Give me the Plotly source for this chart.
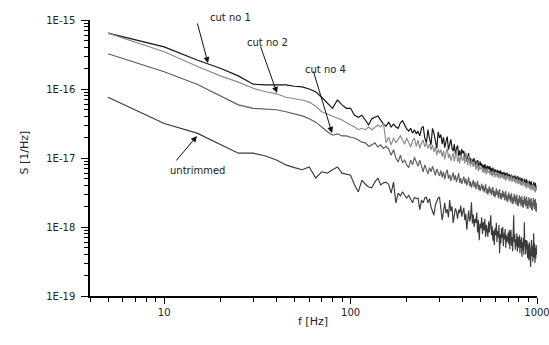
import plotly.graph_objects as go

# frequency grid (Hz), 5 Hz spacing as in the measured spectra
freq = list(range(5, 1005, 5))

# log10 of S [1/Hz]
cut1_log = [
    -15.19, -15.39, -15.58, -15.70, -15.81, -15.93, -15.94, -15.94, -15.94, -15.96,
    -15.97, -16.00, -16.04, -16.12, -16.20, -16.28, -16.16, -16.23, -16.28, -16.28,
    -16.38, -16.41, -16.38, -16.45, -16.52, -16.43, -16.41, -16.39, -16.45, -16.51,
    -16.54, -16.48, -16.55, -16.51, -16.55, -16.57, -16.49, -16.46, -16.52, -16.58,
    -16.61, -16.57, -16.64, -16.59, -16.65, -16.61, -16.68, -16.57, -16.54, -16.71,
    -16.78, -16.59, -16.72, -16.81, -16.57, -16.64, -16.75, -16.86, -16.62, -16.71,
    -16.66, -16.80, -16.70, -16.85, -16.76, -16.69, -16.88, -16.79, -16.73, -16.86,
    -16.90, -16.80, -16.95, -16.86, -16.82, -16.97, -16.89, -17.00, -16.87, -16.93,
    -16.90, -17.01, -16.94, -17.05, -16.97, -16.93, -17.07, -17.00, -17.08, -17.02,
    -17.06, -17.00, -17.10, -17.04, -17.12, -17.03, -17.09, -17.14, -17.05, -17.11,
    -17.08, -17.15, -17.10, -17.17, -17.09, -17.13, -17.18, -17.11, -17.16, -17.12,
    -17.17, -17.12, -17.20, -17.15, -17.22, -17.14, -17.19, -17.23, -17.16, -17.20,
    -17.18, -17.24, -17.17, -17.22, -17.19, -17.26, -17.18, -17.23, -17.20, -17.25,
    -17.21, -17.27, -17.20, -17.24, -17.29, -17.22, -17.26, -17.21, -17.28, -17.24,
    -17.27, -17.23, -17.30, -17.25, -17.29, -17.24, -17.31, -17.26, -17.30, -17.27,
    -17.29, -17.25, -17.32, -17.27, -17.33, -17.28, -17.31, -17.26, -17.34, -17.30,
    -17.32, -17.28, -17.35, -17.30, -17.34, -17.29, -17.36, -17.31, -17.35, -17.32,
    -17.34, -17.30, -17.38, -17.33, -17.36, -17.31, -17.39, -17.34, -17.37, -17.35,
    -17.38, -17.33, -17.41, -17.35, -17.39, -17.34, -17.42, -17.37, -17.44, -17.38,
    -17.40, -17.35, -17.45, -17.38, -17.42, -17.36, -17.47, -17.40, -17.44, -17.41,
]

cut2_log = [
    -15.19, -15.46, -15.67, -15.81, -15.90, -15.99, -16.04, -16.07, -16.12, -16.14,
    -16.16, -16.19, -16.25, -16.33, -16.36, -16.39, -16.42, -16.45, -16.49, -16.52,
    -16.55, -16.59, -16.57, -16.59, -16.55, -16.59, -16.55, -16.52, -16.55, -16.49,
    -16.78, -16.70, -16.81, -16.71, -16.78, -16.72, -16.68, -16.74, -16.80, -16.71,
    -16.77, -16.84, -16.75, -16.71, -16.83, -16.74, -16.86, -16.78, -16.74, -16.84,
    -16.77, -16.86, -16.80, -16.88, -16.81, -16.91, -16.84, -16.96, -16.87, -16.93,
    -16.88, -16.98, -16.90, -17.02, -16.92, -16.86, -17.00, -16.94, -17.04, -16.97,
    -16.93, -17.05, -16.96, -16.89, -17.06, -16.98, -17.08, -16.95, -17.01, -17.04,
    -16.96, -17.08, -16.92, -17.04, -17.10, -16.97, -17.07, -17.12, -17.02, -17.09,
    -17.13, -17.04, -17.11, -17.17, -17.06, -17.14, -17.19, -17.10, -17.16, -17.15,
    -17.12, -17.20, -17.14, -17.22, -17.16, -17.19, -17.24, -17.15, -17.21, -17.20,
    -17.18, -17.25, -17.19, -17.23, -17.27, -17.18, -17.25, -17.21, -17.28, -17.23,
    -17.20, -17.27, -17.22, -17.29, -17.21, -17.26, -17.30, -17.23, -17.28, -17.25,
    -17.29, -17.23, -17.31, -17.25, -17.28, -17.33, -17.24, -17.30, -17.26, -17.29,
    -17.32, -17.26, -17.34, -17.28, -17.31, -17.25, -17.35, -17.29, -17.33, -17.30,
    -17.28, -17.35, -17.30, -17.37, -17.31, -17.34, -17.29, -17.38, -17.32, -17.34,
    -17.37, -17.31, -17.39, -17.33, -17.36, -17.41, -17.34, -17.38, -17.32, -17.37,
    -17.40, -17.35, -17.42, -17.36, -17.39, -17.44, -17.37, -17.41, -17.35, -17.40,
    -17.43, -17.37, -17.45, -17.39, -17.42, -17.47, -17.40, -17.44, -17.38, -17.43,
    -17.46, -17.39, -17.48, -17.41, -17.44, -17.50, -17.42, -17.46, -17.40, -17.45,
]

cut4_log = [
    -15.49, -15.75, -15.93, -16.10, -16.23, -16.28, -16.29, -16.30, -16.33, -16.36,
    -16.39, -16.43, -16.48, -16.55, -16.62, -16.67, -16.65, -16.68, -16.68, -16.70,
    -16.71, -16.74, -16.77, -16.78, -16.83, -16.81, -16.78, -16.84, -16.81, -16.86,
    -16.83, -16.87, -16.96, -16.88, -17.00, -17.06, -16.96, -17.07, -17.03, -17.10,
    -17.14, -17.03, -17.10, -16.99, -17.07, -17.12, -17.03, -17.14, -17.20, -17.10,
    -17.17, -17.23, -17.14, -17.20, -17.12, -17.19, -17.25, -17.16, -17.22, -17.26,
    -17.18, -17.28, -17.20, -17.31, -17.22, -17.17, -17.30, -17.24, -17.33, -17.25,
    -17.21, -17.32, -17.25, -17.35, -17.27, -17.22, -17.36, -17.29, -17.38, -17.31,
    -17.27, -17.37, -17.30, -17.40, -17.33, -17.28, -17.41, -17.34, -17.43, -17.36,
    -17.32, -17.42, -17.35, -17.45, -17.38, -17.33, -17.46, -17.39, -17.48, -17.41,
    -17.37, -17.47, -17.40, -17.50, -17.42, -17.38, -17.51, -17.44, -17.53, -17.45,
    -17.41, -17.51, -17.44, -17.54, -17.46, -17.42, -17.55, -17.48, -17.57, -17.48,
    -17.44, -17.54, -17.47, -17.58, -17.49, -17.45, -17.59, -17.51, -17.60, -17.51,
    -17.47, -17.57, -17.50, -17.61, -17.52, -17.48, -17.62, -17.54, -17.64, -17.54,
    -17.50, -17.60, -17.53, -17.64, -17.55, -17.51, -17.66, -17.57, -17.67, -17.57,
    -17.52, -17.63, -17.55, -17.67, -17.58, -17.53, -17.69, -17.59, -17.70, -17.59,
    -17.54, -17.65, -17.57, -17.69, -17.60, -17.55, -17.71, -17.61, -17.72, -17.61,
    -17.55, -17.67, -17.58, -17.70, -17.61, -17.56, -17.73, -17.62, -17.74, -17.62,
    -17.57, -17.69, -17.60, -17.72, -17.63, -17.58, -17.75, -17.64, -17.76, -17.64,
    -17.58, -17.70, -17.61, -17.74, -17.65, -17.59, -17.77, -17.66, -17.78, -17.65,
]

untrimmed_log = [
    -16.12, -16.50, -16.64, -16.81, -16.93, -16.93, -16.97, -17.03, -17.10, -17.14,
    -17.17, -17.13, -17.29, -17.20, -17.22, -17.17, -17.13, -17.22, -17.23, -17.25,
    -17.39, -17.49, -17.32, -17.38, -17.42, -17.43, -17.35, -17.29, -17.39, -17.36,
    -17.35, -17.38, -17.51, -17.35, -17.65, -17.51, -17.55, -17.49, -17.54, -17.58,
    -17.54, -17.61, -17.65, -17.57, -17.59, -17.58, -17.75, -17.61, -17.65, -17.58,
    -17.57, -17.65, -17.59, -17.71, -17.77, -17.83, -17.68, -17.61, -17.58, -17.57,
    -17.72, -17.90, -17.78, -17.65, -17.80, -17.74, -17.86, -17.61, -17.77, -17.70,
    -17.94, -17.82, -17.73, -17.78, -17.88, -17.75, -17.80, -17.69, -17.85, -17.78,
    -17.72, -17.90, -17.81, -18.04, -17.86, -17.76, -17.92, -17.86, -17.64, -17.95,
    -17.82, -18.00, -17.88, -17.94, -17.79, -18.08, -17.90, -18.19, -17.95, -18.02,
    -17.86, -18.10, -17.93, -18.05, -17.88, -18.14, -17.97, -18.06, -18.14, -17.92,
    -18.08, -17.95, -17.83, -18.12, -17.99, -18.20, -18.05, -18.26, -18.02, -18.12,
    -17.94, -18.22, -18.06, -18.15, -17.97, -18.38, -18.10, -18.24, -18.02, -18.16,
    -18.00, -18.28, -18.09, -18.18, -18.03, -18.30, -18.12, -18.22, -18.19, -18.08,
    -18.25, -18.04, -18.32, -18.11, -18.04, -18.27, -18.15, -18.35, -18.09, -17.83,
    -18.22, -18.10, -18.33, -18.18, -18.28, -18.09, -18.36, -18.14, -18.30, -18.20,
    -18.12, -18.38, -18.18, -18.30, -18.14, -18.43, -18.22, -18.34, -18.16, -18.40,
    -17.93, -18.28, -18.19, -18.40, -18.19, -18.32, -18.20, -18.45, -18.25, -18.38,
    -18.48, -18.22, -18.36, -18.27, -18.58, -18.30, -18.19, -18.42, -18.28, -18.50,
    -18.34, -18.09, -18.44, -18.24, -18.52, -18.30, -18.46, -18.26, -18.40, -18.32,
]

series_names = ["cut no 1", "cut no 2", "cut no 4", "untrimmed"]
series_vals = [cut1_log, cut2_log, cut4_log, untrimmed_log]
series_colors = ["#141414", "#8a8a8a", "#5c5c5c", "#3a3a3a"]

y_tickvals = [1e-19, 1e-18, 1e-17, 1e-16, 1e-15]
y_ticktext = ["1E-19", "1E-18", "1E-17", "1E-16", "1E-15"]
x_tickvals = [10, 100, 1000]
x_ticktext = ["10", "100", "1000"]

# plot area in pixels (from the reference)
L, R, T, B = 90, 537, 20, 296
W, H = 549, 345

fig = go.Figure()
for name, vals, col in zip(series_names, series_vals, series_colors):
    n = min(len(vals), len(freq))
    fig.add_trace(go.Scatter(
        x=freq[:n], y=[10 ** v for v in vals[:n]], mode="lines", name=name,
        line=dict(color=col, width=1.15), showlegend=False, hoverinfo="skip"))

x_minor = [m * d for d in (1, 10, 100) for m in range(2, 10) if 4 <= m * d <= 1000]
y_minor = [m * d for d in (1e-19, 1e-18, 1e-17, 1e-16) for m in range(2, 10)]

FAM = "DejaVu Sans, Verdana, sans-serif"
font_main = dict(family=FAM, size=10, color="#222")

fig.update_layout(
    width=W, height=H,
    margin=dict(l=L, r=W - R, t=T, b=H - B, autoexpand=False),
    paper_bgcolor="white", plot_bgcolor="white",
    font=font_main,
    hovermode=False,
    xaxis=dict(
        type="log", range=[0.60206, 3.0], showgrid=False, zeroline=False,
        showline=True, linecolor="black", linewidth=1.5, mirror=False,
        automargin=False, ticklabeloverflow="allow",
        tickmode="array", tickvals=x_tickvals, ticktext=x_ticktext,
        ticks="outside", ticklen=6, tickwidth=1, tickcolor="black",
        tickfont=font_main,
        minor=dict(tickmode="array", tickvals=x_minor, ticks="outside",
                   ticklen=4, tickwidth=1, tickcolor="black", showgrid=False),
    ),
    yaxis=dict(
        type="log", range=[-19, -15], showgrid=False, zeroline=False,
        showline=True, linecolor="black", linewidth=1.5, mirror=False,
        automargin=False, ticklabeloverflow="allow",
        tickmode="array", tickvals=y_tickvals, ticktext=y_ticktext,
        ticks="outside", ticklen=7, tickwidth=1, tickcolor="black",
        tickfont=font_main, ticklabelstandoff=4,
        minor=dict(tickmode="array", tickvals=y_minor, ticks="outside",
                   ticklen=4, tickwidth=1, tickcolor="black", showgrid=False),
    ),
)

def paper(px, py):
    return (px - L) / (R - L), (B - py) / (B - T)

# axis titles
xp, yp = paper(313, 330)
fig.add_annotation(text="f [Hz]", xref="paper", yref="paper", x=xp, y=yp,
                   showarrow=False, font=dict(family=FAM, size=11, color="#222"))
xp, yp = paper(15, 153)
fig.add_annotation(text="S [1/Hz]", xref="paper", yref="paper", x=xp, y=yp,
                   textangle=-90, showarrow=False,
                   font=dict(family=FAM, size=11, color="#222"))

# curve labels (pixel centres from the reference)
labels = [
    ("cut no 1", 208, 10),
    ("cut no 2", 267, 35),
    ("cut no 4", 325, 62),
    ("untrimmed", 168, 170),
]
for t, px, py in labels:
    xp, yp = paper(px, py)
    fig.add_annotation(text=t, x=xp, y=yp, xref="paper", yref="paper",
                       showarrow=False, font=dict(family=FAM, size=10, color="#222"))

# arrows: tail pixel -> head pixel
arrows = [
    ((197, 22), (208, 63)),
    ((260, 45), (277, 93)),
    ((313, 70), (332, 133)),
    ((175, 162), (197, 136)),
]
for (tx, ty), (hx, hy) in arrows:
    hxp, hyp = paper(hx, hy)
    fig.add_annotation(text="", x=hxp, y=hyp, xref="paper", yref="paper",
                       ax=tx - hx, ay=ty - hy, showarrow=True,
                       arrowhead=2, arrowsize=1.2, arrowwidth=1, arrowcolor="#111",
                       standoff=0, startstandoff=0)

fig.write_html(
    "out.html",
    config={"displayModeBar": False},
    post_script="document.body.style.margin='0';document.body.style.padding='0';",
)
